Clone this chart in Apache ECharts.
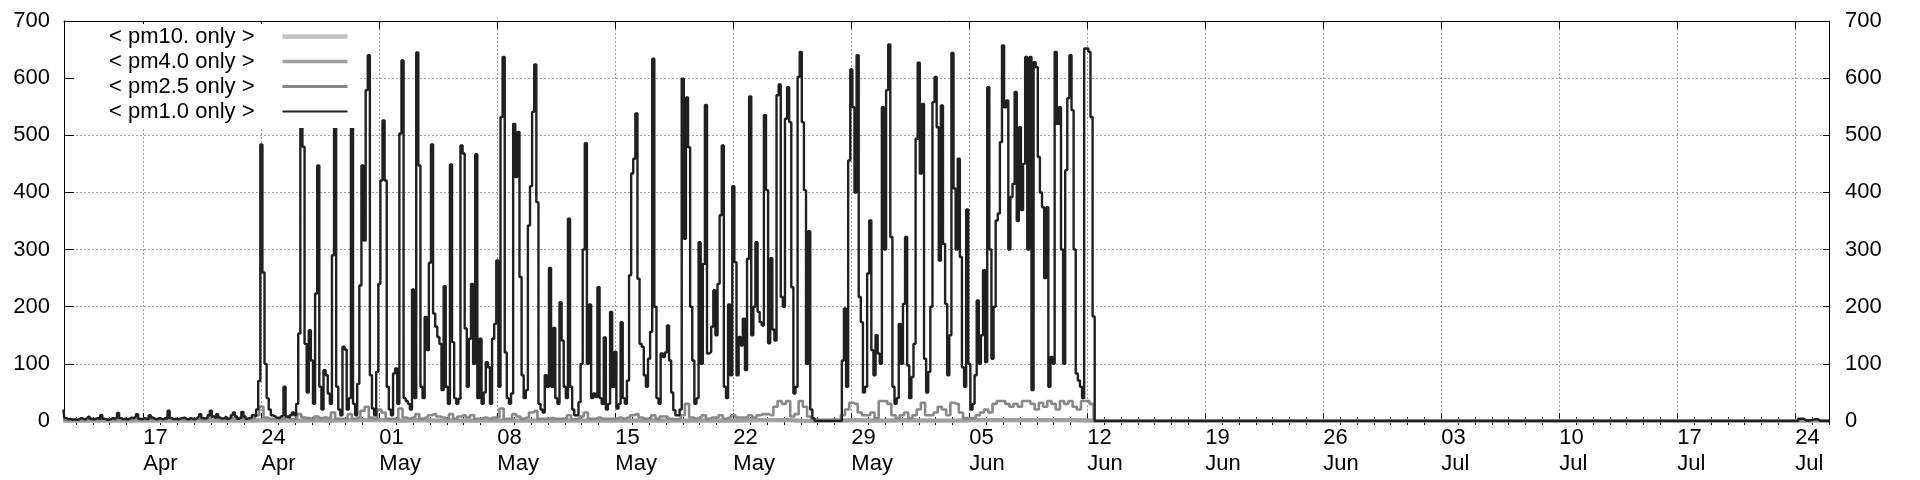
<!DOCTYPE html>
<html><head><meta charset="utf-8">
<script src="https://cdn.jsdelivr.net/npm/echarts@6/dist/echarts.min.js"></script>
<style>html,body{margin:0;padding:0;background:#fff}#c{width:1920px;height:480px}</style>
</head><body><div id="c"></div>
<script>
// ---------- data ----------
const seriesNames = ['< pm10. only >', '< pm4.0 only >', '< pm2.5 only >', '< pm1.0 only >'];
const startTime = '2025-04-12T06:00:00Z';

// pm1.0, one value every 3 hours from startTime (Apr 12 06:00 .. Jun 12 12:00)
const pm1Step = 3;
const pm1 = [
 20,5,3,4,2,3,
 2,3,5,4,3,6,8,4,
 3,4,5,3,10,4,3,2,
 3,5,4,6,14,5,3,4,
 3,4,6,5,8,12,4,3,
 5,4,3,10,6,4,3,5,
 4,3,5,4,18,5,3,4,
 3,4,5,6,4,3,5,4,
 3,5,8,12,5,4,6,10,
 18,8,5,12,6,4,5,8,
 4,6,10,15,8,4,6,16,
 8,4,5,6,10,8,20,70,
 484,260,100,40,20,10,8,6,
 5,8,10,60,8,6,10,15,
 10,30,153,560,480,135,50,159,
 106,30,223,447,60,20,89,80,
 48,30,290,560,60,20,10,130,
 125,20,40,560,30,10,65,237,
 447,316,579,640,80,22,10,86,
 240,421,526,421,60,20,10,83,
 92,30,503,631,40,35,30,20,
 230,40,645,447,60,40,182,124,
 277,484,188,165,147,135,54,236,
 60,30,449,138,40,30,39,482,
 468,162,60,144,240,100,467,40,
 144,30,50,103,94,30,144,170,
 281,60,532,637,120,40,30,48,
 520,427,506,252,80,40,54,342,
 411,541,624,383,30,20,15,80,
 60,268,60,163,40,30,208,141,
 60,40,354,60,20,10,10,33,
 100,300,486,100,204,40,48,42,
 234,40,30,146,20,30,191,60,
 121,22,30,173,40,30,71,255,
 433,459,538,249,135,130,80,60,
 109,156,634,200,40,30,118,112,
 120,167,106,50,19,10,10,20,
 599,319,566,479,200,106,30,40,
 313,100,275,553,118,121,165,229,
 150,240,360,482,60,40,204,80,
 411,278,80,147,132,179,89,284,
 568,150,200,313,191,173,167,535,
 404,136,285,160,141,570,589,217,
 200,529,584,523,234,48,60,602,
 646,523,404,100,332,20,5,0,
 0,0,0,0,0,0,0,0,
 0,0,0,0,106,197,60,456,
 615,549,400,640,217,173,50,60,
 258,351,124,80,150,118,100,549,
 300,579,659,322,60,30,40,170,
 100,205,322,97,40,77,135,494,
 627,433,555,109,50,86,200,558,
 602,514,281,552,310,205,80,150,
 644,407,300,459,287,94,60,370,
 100,20,30,80,211,100,150,264,
 103,584,300,109,200,351,363,488,
 657,549,561,300,392,415,576,350,
 514,369,450,637,300,637,54,628,
 619,462,400,374,250,374,60,112,
 100,646,520,549,300,100,439,565,
 640,544,300,83,71,60,40,652,
 652,646,532,183,0
];

// pm2.5, one value every 6 hours from startTime
const pm25Step = 6;
const pm25 = [
 2,2,2,
 2,3,2,3, 2,3,4,2, 3,2,5,3, 2,3,4,3, 3,4,3,2, 3,2,6,3, 2,3,3,2,
 3,4,3,5, 8,5,4,3, 3,5,4,6, 3,3,5,10, 25,6,4,3, 3,5,6,3, 4,12,6,5,
 4,8,5,6, 5,15,4,4, 4,12,4,6, 18,25,6,4, 20,15,4,4, 4,22,6,4,
 6,12,4,6, 10,12,8,6, 4,12,4,8, 10,6,10,4, 4,6,4,6, 6,22,4,4,
 12,8,4,6, 15,18,4,4, 4,5,4,4, 4,10,3,4, 8,15,4,4, 6,4,4,4,
 4,6,4,6, 10,12,6,4, 4,10,4,8, 8,4,3,3, 10,30,6,4, 6,10,4,6,
 6,10,4,6, 10,6,6,6, 10,6,10,12, 12,10,25,35, 30,35,8,12,
 35,25,8,3, 2,2,2,2, 2,2,10,20, 32,30,15,10, 10,15,5,35, 35,30,10,5,
 10,15,5,10, 20,32,10,10, 15,25,20,10, 32,30,15,5, 5,5,10,15,
 20,15,30,35, 35,30,25,30, 25,35,35,30, 20,32,25,35, 30,20,35,30,
 35,25,20,35, 35,30,0
];

// pm4.0 and pm10, one value per day from startTime (they stay at the floor)
const pm4Step = 24;
const pm4 = [
 1,1,1,1,1,1,1,1,1,1,1,1,2,1,1,2,1,2,2,2,1,2,1,1,1,1,1,1,1,1,
 1,1,1,1,1,1,1,1,1,1,1,2,2,2,0,0,1,2,1,1,2,1,1,1,2,2,2,2,2,2,2,1
];
const pm10Step = 24;
const pm10 = [
 0,0,0,0,0,0,0,0,0,0,0,0,1,0,0,1,0,1,1,1,0,1,0,0,0,0,0,0,0,0,
 0,0,0,0,0,0,0,0,0,0,0,1,1,1,0,0,0,1,0,0,1,0,0,0,1,1,1,1,1,1,1,0
];

// after Jun 12 the readings sit at the floor until the last days of July
const tailDates = ['2025-06-12T18:00:00Z','2025-07-24T00:00:00Z','2025-07-24T08:00:00Z','2025-07-24T16:00:00Z','2025-07-25T04:00:00Z','2025-07-25T12:00:00Z','2025-07-26T00:00:00Z'];
const pm1Tail  = [0,0,4,1,3,0,0];
const pm25Tail = [0,0,2,1,2,0,0];
const pm4Tail  = [0,0,1,0,1,0,0];
const pm10Tail = [0,0,0,0,0,0,0];

// x axis range and weekly tick labels
const axisStart = '2025-04-12T07:00:00Z';
const axisEnd = '2025-07-26T00:00:00Z';
const weekTicks = ['2025-04-17','2025-04-24','2025-05-01','2025-05-08','2025-05-15','2025-05-22','2025-05-29',
  '2025-06-05','2025-06-12','2025-06-19','2025-06-26','2025-07-03','2025-07-10','2025-07-17','2025-07-24'];
const monthNames = ['Jan','Feb','Mar','Apr','May','Jun','Jul','Aug','Sep','Oct','Nov','Dec'];

// ---------- chart ----------
const DAY = 86400000;
const toDay = s => Date.parse(s.length <= 10 ? s + 'T00:00:00Z' : s) / DAY;
const x0 = toDay(axisStart), x1 = toDay(axisEnd);
const weekVals = weekTicks.map(toDay);
const dayVals = [];
for (let d = Math.ceil(x0); d <= x1; d++) if (weekVals.indexOf(d) < 0) dayVals.push(d);

function build(vals, stepH, tail) {
  const s = toDay(startTime);
  const out = vals.map((v, i) => [s + i * stepH / 24, v]);
  tailDates.forEach((d, i) => out.push([toDay(d), tail[i]]));
  return out;
}
const FONT = '"Liberation Sans", Arial, sans-serif';
const fmt = v => { const d = new Date(Math.round(v * DAY)); return String(d.getUTCDate()).padStart(2, '0') + '\n' + monthNames[d.getUTCMonth()]; };

const colors = ['#c0c0c0', '#a0a0a0', '#888888', '#202020'];
const iconWidths = [4.3, 3.7, 3, 2];
const lineWidths = [4.3, 3.7, 2.6, 2.4];
const steps = [false, false, 'middle', 'middle'];
const datas = [build(pm10, pm10Step, pm10Tail), build(pm4, pm4Step, pm4Tail), build(pm25, pm25Step, pm25Tail), build(pm1, pm1Step, pm1Tail)];

const baseX = { type: 'value', min: x0, max: x1, gridIndex: 0, axisLabel: { show: false }, splitLine: { show: false }, axisLine: { show: false } };
const chart = echarts.init(document.getElementById('c'), null, { renderer: 'canvas' });
chart.setOption({
  animation: false,
  backgroundColor: '#fff',
  grid: { left: 64, right: 91, top: 21, bottom: 59, containLabel: false },
  xAxis: [
    Object.assign({}, baseX, {
      position: 'bottom',
      axisLine: { show: true, onZero: false, lineStyle: { color: '#000', width: 1 } },
      axisTick: { show: true, inside: true, length: 8, customValues: weekVals, lineStyle: { color: '#000' } },
      axisLabel: { show: true, customValues: weekVals, formatter: fmt, align: 'left', color: '#000', fontSize: 22, lineHeight: 26, margin: 4, fontFamily: FONT },
      splitLine: { show: true, lineStyle: { color: '#a0a0a0', type: [2, 2], width: 1 } }
    }),
    Object.assign({}, baseX, { position: 'bottom', axisTick: { show: true, inside: true, length: 4, customValues: dayVals, lineStyle: { color: '#000' } } }),
    Object.assign({}, baseX, { position: 'top', axisLine: { show: true, onZero: false, lineStyle: { color: '#000', width: 1 } }, axisTick: { show: true, inside: true, length: 8, customValues: weekVals, lineStyle: { color: '#000' } } }),
    Object.assign({}, baseX, { position: 'top', axisTick: { show: true, inside: true, length: 4, customValues: dayVals, lineStyle: { color: '#000' } } })
  ],
  yAxis: [
    { type: 'value', min: 0, max: 700, interval: 100, position: 'left',
      axisLine: { show: true, onZero: false, lineStyle: { color: '#000' } },
      axisTick: { show: true, inside: true, length: 10, lineStyle: { color: '#000' } },
      axisLabel: { color: '#000', fontSize: 22, margin: 14, fontFamily: FONT },
      splitLine: { show: true, lineStyle: { color: '#a0a0a0', type: [2, 2], width: 1 } } },
    { type: 'value', min: 0, max: 700, interval: 100, position: 'right',
      axisLine: { show: true, onZero: false, lineStyle: { color: '#000' } },
      axisTick: { show: true, inside: true, length: 6, lineStyle: { color: '#000' } },
      axisLabel: { color: '#000', fontSize: 22, margin: 16, fontFamily: FONT },
      splitLine: { show: false } }
  ],
  legend: {
    show: true, left: 75, top: 24, orient: 'vertical', align: 'right',
    itemWidth: 65, itemHeight: 14, itemGap: 0, padding: [0, 13, 4, 34],
    backgroundColor: '#fff', selectedMode: false,
    textStyle: { fontSize: 22, lineHeight: 25, color: '#000', fontFamily: FONT, padding: [0, 23, 0, 0] },
    data: seriesNames.map((n, i) => ({ name: n, icon: 'path://M0,0H65V' + iconWidths[i] + 'H0Z', itemStyle: { color: colors[i], borderWidth: 0 } }))
  },
  series: seriesNames.map((n, i) => ({
    name: n, type: 'line', xAxisIndex: 0, yAxisIndex: 0,
    data: datas[i], showSymbol: false, symbol: 'none', step: steps[i],
    color: colors[i],
    lineStyle: { color: colors[i], width: lineWidths[i] },
    emphasis: { disabled: true }
  }))
});
</script>
</body></html>
